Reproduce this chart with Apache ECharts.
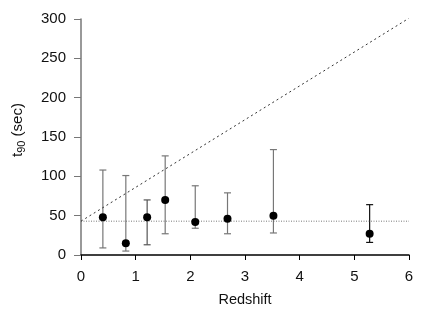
<!DOCTYPE html>
<html>
<head>
<meta charset="utf-8">
<script src="https://cdn.jsdelivr.net/npm/echarts@6/dist/echarts.min.js"></script>
<style>html,body{margin:0;padding:0;background:#fff}#c{width:436px;height:312px}</style>
</head>
<body>
<div id="c"></div>
<script>
var redshift = [0.40, 0.82, 1.21, 1.54, 2.09, 2.68, 3.52, 5.28];
var t90 = [48, 15, 48, 70, 42, 46, 50, 27];
var errHigh = [108, 101, 70, 126, 88, 79, 134, 64];
var errLow = [9, 5, 13, 27, 34, 27, 28, 16];
var errColor = ['#777', '#777', '#555', '#777', '#777', '#777', '#777', '#111'];
var hLine = [[0, 43], [6, 43]];
var diagLine = [[0, 43], [6, 301]];
var yTicks = [0, 50, 100, 150, 200, 250, 300];
var xTicks = [0, 1, 2, 3, 4, 5, 6];

var errData = redshift.map(function (x, i) { return [x, errLow[i], errHigh[i], i]; });
var pts = redshift.map(function (x, i) { return [x, t90[i]]; });

var chart = echarts.init(document.getElementById('c'), null, {renderer: 'canvas'});
var font = 'Liberation Sans, Arial, sans-serif';
chart.setOption({
  animation: false,
  grid: {left: 81, right: 27, top: 19, bottom: 56},
  xAxis: {
    type: 'value', min: xTicks[0], max: xTicks[xTicks.length - 1], interval: 1,
    name: 'Redshift', nameLocation: 'middle', nameGap: 37,
    nameTextStyle: {fontFamily: font, fontSize: 14.5, color: '#111'},
    axisLine: {onZero: false, lineStyle: {color: '#000', width: 1.5}},
    axisTick: {inside: false, length: 5, lineStyle: {color: '#000'}},
    axisLabel: {margin: 14, fontFamily: font, fontSize: 15, color: '#111'},
    splitLine: {show: false}
  },
  yAxis: {
    type: 'value', min: yTicks[0], max: yTicks[yTicks.length - 1], interval: 50,
    name: '{t|t}{s|90}{t| (sec)}', nameLocation: 'middle', nameGap: 54, nameRotate: 90,
    nameTextStyle: {padding: [0, 0, 0, 14], rich: {t: {fontFamily: font, fontSize: 15, color: '#111'}, s: {fontFamily: font, fontSize: 11, color: '#111', verticalAlign: 'bottom', padding: [7, 0, 0, 0]}}},
    axisLine: {show: true, lineStyle: {color: '#777', width: 1.5}},
    axisTick: {show: true, inside: false, length: 7, lineStyle: {color: '#777'}},
    axisLabel: {margin: 15, fontFamily: font, fontSize: 15, color: '#111'},
    splitLine: {show: false}
  },
  series: [
    {
      type: 'line', data: diagLine, symbol: 'none', silent: true,
      lineStyle: {color: '#333', width: 1, type: [2, 3]}
    },
    {
      type: 'line', data: hLine, symbol: 'none', silent: true,
      lineStyle: {color: '#555', width: 0.8, type: [1, 1.5]}
    },
    {
      type: 'custom', data: errData,
      renderItem: function (params, api) {
        var x = api.value(0);
        var lo = api.coord([x, api.value(1)]);
        var hi = api.coord([x, api.value(2)]);
        var c = errColor[api.value(3)];
        var w = 3.5;
        var st = {stroke: c, lineWidth: 1.2};
        return {type: 'group', children: [
          {type: 'line', shape: {x1: lo[0], y1: lo[1], x2: hi[0], y2: hi[1]}, style: st},
          {type: 'line', shape: {x1: lo[0] - w, y1: lo[1], x2: lo[0] + w, y2: lo[1]}, style: st},
          {type: 'line', shape: {x1: hi[0] - w, y1: hi[1], x2: hi[0] + w, y2: hi[1]}, style: st}
        ]};
      },
      z: 3
    },
    {
      type: 'scatter', data: pts, symbol: 'circle', symbolSize: 8,
      itemStyle: {color: '#000', opacity: 1}, z: 5
    }
  ]
});
</script>
</body>
</html>
